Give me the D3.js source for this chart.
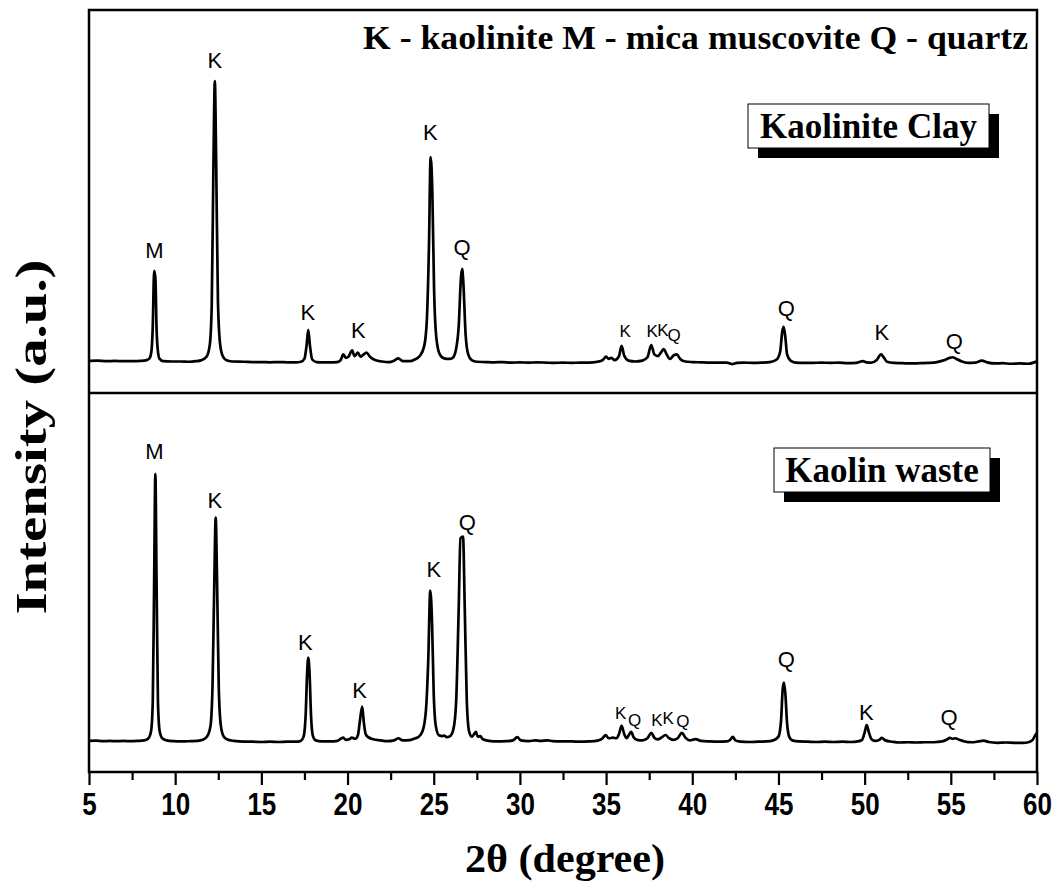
<!DOCTYPE html>
<html><head><meta charset="utf-8">
<script src="https://cdn.jsdelivr.net/npm/d3@7/dist/d3.min.js"></script>
<style>body{margin:0;background:#fff}svg{display:block}</style>
</head><body>
<svg id="chart" width="1062" height="881"></svg>
<script>
// ---- data (2θ in degrees, intensity in arbitrary units) ----
const clayPattern = [
[5.0,7],[5.5,8],[6.0,6],[6.5,7],[7.0,6],[7.5,6],[8.0,7],[8.3,9],[8.5,15],[8.62,40],[8.7,130],[8.78,324],[8.85,300],[8.92,120],[9.0,40],[9.1,14],[9.3,6],
[9.8,5],[10.3,5],[10.8,4],[11.2,6],[11.5,9],[11.8,20],[12.0,60],[12.12,200],[12.22,700],[12.3,993],[12.38,700],[12.48,220],[12.6,70],[12.75,25],[12.95,10],[13.3,5],
[14.0,4],[14.5,3],[15.0,3],[15.5,2],[16.0,3],[16.5,2],[17.0,2],[17.3,4],[17.5,15],[17.62,60],[17.72,116],[17.82,60],[17.95,12],[18.2,3],[18.6,2],[19.0,2],
[19.4,3],[19.6,10],[19.75,30],[19.9,18],[20.05,22],[20.27,44],[20.4,24],[20.6,36],[20.75,22],[20.9,28],[21.1,36],[21.3,22],[21.6,10],[22.0,5],[22.4,3],
[22.7,8],[22.95,16],[23.2,6],[23.6,6],[23.9,12],[24.2,25],[24.45,60],[24.6,150],[24.72,400],[24.82,725],[24.92,600],[25.02,260],[25.15,90],[25.35,30],
[25.6,16],[25.9,14],[26.1,18],[26.3,50],[26.45,130],[26.58,300],[26.65,331],[26.72,280],[26.85,100],[27.0,30],[27.2,10],[27.5,4],[28.0,3],[28.5,2],
[29.0,3],[29.5,1],[30.0,2],[30.5,1],[31.0,2],[31.5,1],[32.0,0],[32.5,1],[33.0,0],[33.5,1],[34.0,1],[34.5,4],[34.8,10],[35.0,22],[35.15,14],[35.3,18],
[35.5,10],[35.75,24],[35.9,60],[36.05,26],[36.3,8],[36.7,5],[37.1,8],[37.4,20],[37.62,63],[37.8,30],[38.0,24],[38.2,38],[38.35,49],[38.5,32],[38.7,14],
[38.95,28],[39.1,30],[39.3,14],[39.6,5],[40.0,3],[40.5,2],[41.0,1],[41.5,1],[42.0,1],[42.3,-4],[42.6,0],[43.0,1],[43.5,0],[44.0,1],[44.5,3],[44.9,12],
[45.1,40],[45.22,110],[45.3,127],[45.4,90],[45.5,30],[45.7,8],[46.0,1],[46.5,0],[47.0,0],[47.5,1],[48.0,0],[48.5,1],[49.0,-1],[49.5,0],[49.9,6],[50.1,2],
[50.4,1],[50.7,10],[50.95,30],[51.1,20],[51.3,4],[51.7,0],[52.2,-1],[52.7,-2],[53.2,-1],[53.7,0],[54.2,3],[54.6,9],[54.9,17],[55.1,20],[55.3,15],[55.6,6],
[56.0,0],[56.4,1],[56.8,8],[57.1,2],[57.6,-2],[58.0,-1],[58.5,-3],[59.0,-2],[59.5,-3],[59.8,1],[60.0,6]
];
const wastePattern = [
[5.0,4],[5.4,5],[5.8,3],[6.2,4],[6.6,3],[7.0,4],[7.4,3],[7.8,4],[8.2,6],[8.45,14],[8.6,40],[8.7,150],[8.78,600],[8.85,1000],[8.92,600],[9.0,150],[9.1,40],
[9.25,14],[9.5,6],[9.9,3],[10.4,2],[10.9,3],[11.3,4],[11.6,8],[11.85,20],[12.05,60],[12.17,220],[12.27,600],[12.35,837],[12.43,600],[12.53,200],[12.65,60],
[12.8,22],[13.0,10],[13.4,4],[14.0,1],[14.5,1],[15.0,0],[15.5,1],[16.0,0],[16.5,1],[17.0,1],[17.3,5],[17.45,20],[17.57,100],[17.65,250],[17.72,315],
[17.8,250],[17.88,100],[17.98,25],[18.15,6],[18.5,2],[19.0,2],[19.4,4],[19.6,12],[19.75,16],[19.9,8],[20.1,10],[20.25,16],[20.45,12],[20.6,25],[20.72,80],
[20.85,132],[20.95,70],[21.05,30],[21.2,18],[21.5,10],[21.9,6],[22.3,3],[22.7,6],[22.95,14],[23.2,6],[23.6,7],[23.85,12],[24.1,18],[24.35,40],[24.55,120],
[24.68,300],[24.8,565],[24.9,450],[25.0,180],[25.12,60],[25.3,25],[25.5,22],[25.6,24],[25.75,18],[25.95,22],[26.15,50],[26.3,150],[26.45,500],[26.55,760],
[26.7,766],[26.8,500],[26.92,150],[27.05,40],[27.2,20],[27.35,30],[27.45,38],[27.55,20],[27.7,22],[27.85,10],[28.2,4],[28.7,2],[29.2,3],[29.6,6],[29.85,18],
[30.05,6],[30.5,3],[30.9,6],[31.2,4],[31.6,6],[31.9,3],[32.4,2],[33.0,2],[33.5,1],[34.0,2],[34.5,5],[34.8,14],[34.97,26],[35.15,14],[35.4,16],[35.6,14],
[35.75,30],[35.9,60],[36.05,30],[36.2,14],[36.3,24],[36.45,38],[36.6,18],[36.8,8],[37.1,6],[37.4,14],[37.62,34],[37.8,16],[38.0,10],[38.2,16],[38.45,26],
[38.65,14],[38.9,8],[39.15,14],[39.4,34],[39.6,16],[39.85,6],[40.2,11],[40.5,4],[41.0,2],[41.5,1],[42.0,2],[42.2,8],[42.35,19],[42.5,6],[42.8,1],[43.3,0],
[43.8,1],[44.3,2],[44.7,6],[45.0,20],[45.15,80],[45.25,200],[45.32,222],[45.4,180],[45.5,70],[45.62,20],[45.8,6],[46.2,2],[46.7,1],[47.2,0],[47.7,1],
[48.2,0],[48.7,1],[49.2,0],[49.6,2],[49.85,8],[50.0,35],[50.12,63],[50.25,35],[50.4,10],[50.6,4],[50.85,8],[51.0,15],[51.2,6],[51.6,1],[52.0,-2],[52.5,-1],
[53.0,-2],[53.5,-1],[54.0,-1],[54.5,2],[54.8,10],[54.95,15],[55.1,12],[55.25,14],[55.5,8],[55.8,2],[56.2,-1],[56.6,2],[56.9,5],[57.2,0],[57.7,-3],[58.2,-2],
[58.7,-3],[59.2,-3],[59.5,-1],[59.75,8],[59.9,25],[60.0,34]
];
const xTickValues = [5,10,15,20,25,30,35,40,45,50,55,60];
const xMinorTickValues = [7.5,12.5,17.5,22.5,27.5,32.5,37.5,42.5,47.5,52.5,57.5];
const clayLabelText  = ["M","K","K","K","K","Q","K","K","K","Q","Q","K","Q"];
const clayLabelTheta = [8.8,12.3,17.7,20.62,24.8,26.65,36.1,37.67,38.3,38.95,45.45,51.0,55.2];
const clayLabelLevel = [370,1039,151,88,785,380,90,92,95,78,165,80,50];
const wasteLabelText  = ["M","K","K","K","K","Q","K","Q","K","K","Q","Q","K","Q"];
const wasteLabelTheta = [8.8,12.3,17.55,20.7,25.0,26.95,35.85,36.65,37.95,38.6,39.45,45.45,50.1,54.9];
const wasteLabelLevel = [1056,873,343,164,616,791,86,60,60,68,56,280,82,63];
const legendText = "K - kaolinite M - mica muscovite Q - quartz";
const clayName = "Kaolinite Clay";
const wasteName = "Kaolin waste";
const xTitle = "2θ (degree)";
const yTitle = "Intensity (a.u.)";

// ---- layout ----
const svg = d3.select("#chart");
const L = 89, R = 1037, T = 10, B = 772, MID = 393;
const x = d3.scaleLinear().domain([5,60]).range([L,R]);
const yClay = d3.scaleLinear().domain([-106,1243]).range([MID,T]);
const yWaste = d3.scaleLinear().domain([-112,1302]).range([B,MID]);

const defs = svg.append("defs");
defs.append("clipPath").attr("id","clipTop").append("rect").attr("x",L).attr("y",T).attr("width",R-L).attr("height",MID-T);
defs.append("clipPath").attr("id","clipBot").append("rect").attr("x",L).attr("y",MID).attr("width",R-L).attr("height",B-MID);

function drawPattern(data, y, clip){
  svg.append("path").datum(data).attr("clip-path",`url(#${clip})`)
    .attr("fill","none").attr("stroke","#000").attr("stroke-width",2.7).attr("stroke-linejoin","round")
    .attr("d", d3.line().x(d=>x(d[0])).y(d=>y(d[1])).curve(d3.curveMonotoneX));
}
drawPattern(clayPattern, yClay, "clipTop");
drawPattern(wastePattern, yWaste, "clipBot");

function drawLabels(texts, thetas, levels, y){
  svg.append("g").selectAll("text").data(texts).join("text")
    .attr("x",(d,i)=>x(thetas[i])).attr("y",(d,i)=>y(levels[i]))
    .attr("text-anchor","middle")
    .attr("font-family","'Liberation Sans', Arial, sans-serif")
    .attr("font-size",(d,i)=> (thetas[i]>35 && thetas[i]<40) ? 17 : 22)
    .attr("fill","#000").text(d=>d);
}
drawLabels(clayLabelText, clayLabelTheta, clayLabelLevel, yClay);
drawLabels(wasteLabelText, wasteLabelTheta, wasteLabelLevel, yWaste);

// frame and divider
svg.append("rect").attr("x",L).attr("y",T).attr("width",R-L).attr("height",B-T)
  .attr("fill","none").attr("stroke","#000").attr("stroke-width",2.5);
svg.append("line").attr("x1",L).attr("x2",R).attr("y1",MID).attr("y2",MID)
  .attr("stroke","#000").attr("stroke-width",2.5);

// x axis
const gx = svg.append("g").attr("transform",`translate(0,${B})`)
  .call(d3.axisBottom(x).tickValues(xTickValues).tickSize(13).tickPadding(8).tickFormat(d3.format("d")));
gx.select(".domain").remove();
gx.selectAll(".tick line").attr("stroke","#000").attr("stroke-width",2.2);
gx.selectAll("text").attr("font-family","'Liberation Sans',Arial,sans-serif")
  .attr("font-weight","bold").attr("font-size",31).attr("fill","#000")
  .attr("transform","scale(0.84,1)");
const gm = svg.append("g").attr("transform",`translate(0,${B})`)
  .call(d3.axisBottom(x).tickValues(xMinorTickValues).tickSize(8).tickFormat(""));
gm.select(".domain").remove();
gm.selectAll(".tick line").attr("stroke","#000").attr("stroke-width",2.2);

// legend text
const serif = "'Liberation Serif','Times New Roman',serif";
svg.append("text").attr("x",363).attr("y",49)
  .attr("textLength",665).attr("lengthAdjust","spacingAndGlyphs")
  .attr("font-family",serif).attr("font-weight","bold").attr("font-size",33).text(legendText);

// sample name boxes with drop shadow
function nameBox(x0,y0,w,h,label){
  svg.append("rect").attr("x",x0+10).attr("y",y0+10).attr("width",w).attr("height",h).attr("fill","#000");
  svg.append("rect").attr("x",x0).attr("y",y0).attr("width",w).attr("height",h).attr("fill","#fff").attr("stroke","#000").attr("stroke-width",1);
  svg.append("text").attr("x",x0+w/2).attr("y",y0+h/2+12).attr("text-anchor","middle")
    .attr("font-family",serif).attr("font-weight","bold").attr("font-size",35).text(label);
}
nameBox(748,104,241,44,clayName);
nameBox(774,448,216,44,wasteName);

// axis titles
svg.append("text").attr("x",565).attr("y",872).attr("text-anchor","middle")
  .attr("textLength",200).attr("lengthAdjust","spacingAndGlyphs")
  .attr("font-family",serif).attr("font-weight","bold").attr("font-size",40).text(xTitle);
svg.append("text").attr("transform","translate(46,437) rotate(-90)").attr("text-anchor","middle")
  .attr("textLength",355).attr("lengthAdjust","spacingAndGlyphs")
  .attr("font-family",serif).attr("font-weight","bold").attr("font-size",45).text(yTitle);
</script>
</body></html>
